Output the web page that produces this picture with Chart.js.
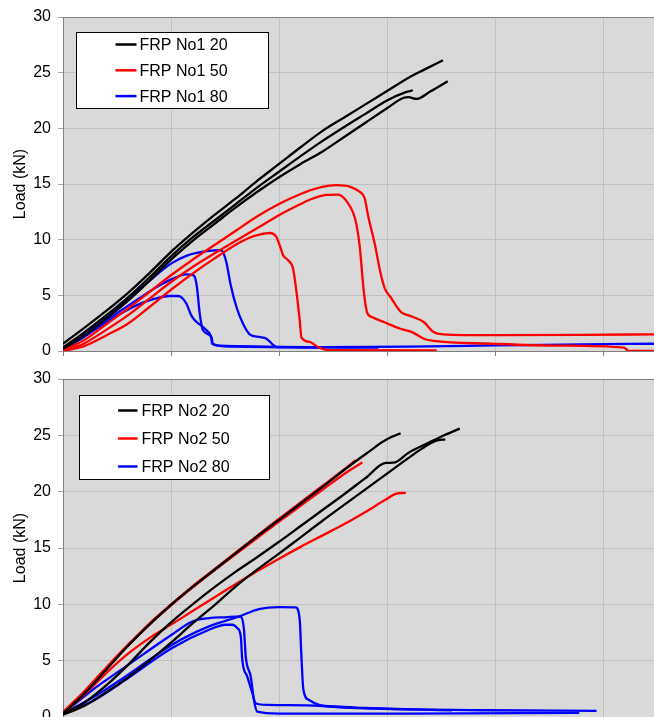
<!DOCTYPE html>
<html>
<head>
<meta charset="utf-8">
<script src="https://cdn.jsdelivr.net/npm/chart.js@4.4.1/dist/chart.umd.min.js"></script>
<style>
  html, body { margin: 0; padding: 0; background: #ffffff; overflow: hidden; }
  #page { position: relative; width: 654px; height: 717px; overflow: hidden; }
  #top { position: absolute; left: 0; top: 0; }
  #bottom { position: absolute; left: 0; top: 360px; }
</style>
</head>
<body>
<div id="page">
  <canvas id="top" width="654" height="372"></canvas>
  <canvas id="bottom" width="654" height="378"></canvas>
</div>
<script>
// Load vs. displacement, three specimens for each FRP bond length

const yTicks = [0, 5, 10, 15, 20, 25, 30];
const xGrid = [0, 5, 10, 15, 20, 25];
const xMax = 27.36;
const yTitle = 'Load (kN)';

const no1Labels = ['FRP No1 20', 'FRP No1 50', 'FRP No1 80'];
const no2Labels = ['FRP No2 20', 'FRP No2 50', 'FRP No2 80'];
const seriesColors = ['#000000', '#ff0000', '#0000ff'];

// ---- FRP No1 ----
const no1_20_a = [[0,0.65],[1,2.1],[2,3.6],[3,5.2],[4,7.0],[5,8.9],[6,10.6],[7,12.2],[8,13.7],[9,15.3],[10,16.8],[11,18.3],[12,19.75],[13,20.95],[14,22.15],[15,23.35],[16,24.55],[16.7,25.25],[17.59,26.12]];
const no1_20_b = [[0,0.3],[1,1.7],[2,3.2],[3,4.8],[4,6.6],[5,8.5],[6,10.2],[7,11.7],[8,13.2],[9,14.7],[10,16.1],[11,17.5],[12,18.85],[13,20.1],[14,21.3],[15,22.5],[15.9,23.27],[16.2,23.42]];
const no1_20_c = [[0,0.2],[1,1.4],[2,2.9],[3,4.5],[4,6.3],[5,8.2],[6,9.9],[7,11.4],[8,12.9],[9,14.3],[10,15.6],[11,16.8],[12,17.9],[13,19.2],[14,20.5],[15,21.8],[15.77,22.75],[16.0,22.8],[16.36,22.64],[17.0,23.3],[17.81,24.23]];

const no1_50_a = [[0,0.1],[1,1.0],[2,2.4],[3,3.8],[4,5.3],[5,6.8],[6,8.2],[7,9.5],[8,10.8],[9,12.1],[10,13.2],[11,14.1],[11.73,14.6],[12.66,14.89],[13.3,14.75],[13.74,14.29],[13.97,13.7],[14.12,12.2],[14.43,9.65],[14.7,7.0],[14.9,5.6],[15.16,4.85],[15.65,3.5],[16.0,3.2],[16.7,2.6],[17.16,1.7],[17.6,1.5],[20,1.42],[24,1.45],[27.36,1.5]];
const no1_50_b = [[0,0],[1,0.7],[2,1.9],[3,3.2],[4,4.7],[5,6.2],[6,7.55],[7,8.75],[8,9.9],[9,11.05],[10,12.2],[11,13.2],[11.5,13.65],[12.19,14.02],[12.73,14.05],[13.15,13.39],[13.54,11.74],[13.74,9.34],[13.92,5.45],[14.07,3.5],[14.3,3.05],[14.85,2.6],[15.62,2.0],[16.16,1.7],[16.7,1.1],[17.16,0.9],[19.8,0.66],[22.87,0.48],[25.96,0.3],[26.19,0.02],[27.36,0.02]];
const no1_50_c = [[0,0],[1,0.45],[2,1.4],[3,2.45],[4,3.95],[5,5.5],[6,6.95],[7,8.3],[8,9.55],[8.6,10.15],[9.1,10.45],[9.57,10.6],[9.88,10.24],[10.06,9.34],[10.19,8.6],[10.42,8.15],[10.65,7.4],[10.8,5.45],[10.96,2.76],[11.04,1.2],[11.42,0.81],[11.8,0.36],[12.3,0.08],[17.3,0.05]];

const no1_80_a = [[0,0.2],[1,1.5],[2,3.0],[3,4.65],[4,6.3],[5,7.85],[5.71,8.55],[6.42,8.9],[7.0,9.03],[7.33,9.05],[7.56,8.0],[7.75,6.05],[8.03,3.95],[8.33,2.46],[8.64,1.5],[9.1,1.26],[9.42,1.11],[9.7,0.6],[9.88,0.36],[12,0.35],[16,0.4],[20,0.5],[24,0.6],[27.36,0.65]];
const no1_80_b = [[0,0.1],[1,1.35],[2,2.75],[3,4.05],[3.7,4.95],[4.48,5.9],[5.09,6.5],[5.7,6.88],[6.0,6.82],[6.1,6.65],[6.2,5.75],[6.33,3.36],[6.48,1.86],[6.87,1.26],[6.94,0.66],[7.5,0.45],[10,0.35],[14.6,0.3]];
const no1_80_c = [[0,0.1],[1,1.3],[2,2.6],[2.7,3.4],[3.4,4.1],[4.17,4.65],[4.94,4.94],[5.32,4.94],[5.5,4.8],[5.71,4.26],[5.94,3.2],[6.1,2.76],[6.64,1.86],[6.87,1.11],[6.9,0.66],[7.3,0.45],[12.0,0.3]];

// ---- FRP No2 ----
const no2_20_a = [[0,0.3],[1,2.1],[2,4.2],[3,6.3],[4,8.2],[5,9.95],[6,11.55],[7,13.05],[8,14.55],[9,16.05],[10,17.5],[11,18.95],[12,20.4],[13,21.9],[13.55,22.7],[14.2,23.6],[14.78,24.4],[15.2,24.85],[15.63,25.18]];
const no2_20_b = [[0,0.3],[1,1.3],[2,2.8],[3,4.6],[4,6.6],[5,8.4],[6,10.0],[7,11.5],[8,12.9],[9,14.2],[10,15.55],[11,16.95],[12,18.35],[13,19.75],[14,21.2],[14.94,22.55],[15.3,22.57],[16.0,23.46],[16.94,24.35],[17.7,25.05],[18.37,25.6]];
const no2_20_c = [[0,0.2],[1,1.0],[2,2.2],[3,3.5],[4,5.0],[5,6.6],[6,8.3],[7,9.9],[8,11.6],[9,13.1],[10,14.5],[11,15.95],[12,17.4],[13,18.8],[14,20.2],[15,21.6],[16,23.0],[16.6,23.8],[17.25,24.5],[17.7,24.65]];

const no2_50_a = [[0,0.45],[1,2.3],[2,4.4],[3,6.4],[4,8.3],[5,10.0],[6,11.6],[7,13.1],[8,14.6],[9,16.1],[10,17.6],[11,19.05],[12,20.5],[13,21.95],[13.55,22.8]];
const no2_50_b = [[0,0.4],[1,2.2],[2,4.3],[3,6.3],[4,8.2],[5,9.9],[6,11.5],[7,13.0],[8,14.45],[9,15.9],[10,17.35],[11,18.75],[12,20.15],[13,21.55],[13.86,22.6]];
const no2_50_c = [[0,0.3],[1,2.0],[2,3.9],[3,5.6],[4,7.0],[5,8.2],[6,9.4],[7,10.6],[8,11.8],[9,12.95],[10,14.05],[11,15.1],[12,16.1],[13,17.1],[14,18.2],[14.94,19.3],[15.4,19.8],[15.87,19.9]];

const no2_80_a = [[0,0.3],[1.36,1.7],[2.9,3.6],[5.03,6.4],[6.76,8.04],[8.15,8.92],[9.07,9.58],[10.0,9.76],[10.77,9.73],[10.96,8.63],[11.03,5.67],[11.13,2.4],[11.39,1.51],[11.85,1.07],[12.5,0.9],[14.5,0.74],[19.7,0.6],[24.7,0.55]];
const no2_80_b = [[0,0.3],[1.36,2.4],[2.9,4.47],[5.03,7.3],[5.99,8.48],[6.76,8.78],[7.5,8.85],[8.23,8.92],[8.38,7.74],[8.46,5.36],[8.69,3.59],[8.84,1.51],[8.99,0.47],[10,0.3],[16,0.3],[23.9,0.36]];
const no2_80_c = [[0,0.3],[1.36,1.4],[2.9,3.3],[5.03,6.1],[6.76,7.74],[7.53,8.19],[7.84,8.19],[8.07,7.89],[8.23,7.15],[8.3,5.07],[8.53,3.59],[8.77,2.1],[8.92,1.22],[9.5,1.07],[11.85,1.0],[14,0.8],[18,0.6]];

const FONT = "'Liberation Sans', Arial, Helvetica, sans-serif";
const PLOT_BG = '#d9d9d9';
const GRID = '#c0c0c0';
const FRAME = '#7f7f7f';

function makeDatasets(labels, groups) {
  const sets = [];
  groups.forEach((curves, g) => {
    curves.forEach(curve => {
      sets.push({
        label: labels[g],
        data: curve.map(p => ({ x: p[0], y: p[1] })),
        borderColor: seriesColors[g],
        backgroundColor: seriesColors[g],
        borderWidth: 2.3,
        pointRadius: 0,
        pointHoverRadius: 0,
        fill: false,
        cubicInterpolationMode: 'monotone'
      });
    });
  });
  return sets;
}

// plot background, top frame line and the boxed legend
const panelPlugin = {
  id: 'panel',
  beforeDraw(chart, args, opts) {
    const { ctx, chartArea: a } = chart;
    ctx.save();
    ctx.fillStyle = opts.background;
    ctx.fillRect(a.left, a.top, a.right - a.left, a.bottom - a.top);
    ctx.restore();
  },
  afterDraw(chart, args, opts) {
    const { ctx, chartArea: a } = chart;
    ctx.save();
    ctx.strokeStyle = opts.frame;
    ctx.lineWidth = 1;
    ctx.beginPath();
    ctx.moveTo(a.left, a.top + 0.5);
    ctx.lineTo(a.right, a.top + 0.5);
    ctx.stroke();

    const L = opts.legend;
    const bx = Math.round(a.left + L.dx) + 0.5;
    const by = Math.round(a.top + L.dy) + 0.5;
    ctx.fillStyle = '#ffffff';
    ctx.fillRect(bx, by, L.w, L.h);
    ctx.strokeStyle = '#000000';
    ctx.lineWidth = 1;
    ctx.strokeRect(bx, by, L.w, L.h);

    const seen = [];
    chart.data.datasets.forEach(ds => {
      if (!seen.some(s => s.label === ds.label)) seen.push(ds);
    });
    ctx.font = '16px ' + FONT;
    ctx.textBaseline = 'middle';
    ctx.textAlign = 'left';
    seen.forEach((ds, i) => {
      const yy = by + L.row0 + i * L.rowGap;
      ctx.strokeStyle = ds.borderColor;
      ctx.lineWidth = 2.5;
      ctx.beginPath();
      ctx.moveTo(bx + L.s0, yy);
      ctx.lineTo(bx + L.s1, yy);
      ctx.stroke();
      ctx.fillStyle = '#000000';
      ctx.fillText(ds.label, bx + L.tx, yy + 1);
    });
    ctx.restore();
  }
};

function makeOptions(padTop, xAxisHeight, legend) {
  return {
    responsive: false,
    animation: false,
    devicePixelRatio: 1,
    layout: { padding: { top: padTop, left: 0, right: 0, bottom: 0 } },
    plugins: {
      legend: { display: false },
      tooltip: { enabled: false },
      panel: { background: PLOT_BG, frame: FRAME, legend: legend }
    },
    scales: {
      x: {
        type: 'linear',
        min: 0,
        max: xMax,
        afterBuildTicks: s => { s.ticks = xGrid.map(v => ({ value: v })); },
        afterFit: s => { s.height = xAxisHeight; },
        ticks: { display: false },
        grid: { color: GRID, tickColor: FRAME, tickLength: 5, lineWidth: 1 },
        border: { color: FRAME, width: 1 }
      },
      y: {
        type: 'linear',
        min: 0,
        max: 30,
        afterBuildTicks: s => { s.ticks = yTicks.map(v => ({ value: v })); },
        afterFit: s => { s.width = 63; },
        ticks: { font: { family: FONT, size: 16 }, color: '#000000', padding: 7 },
        grid: { color: GRID, tickColor: '#a6a6a6', tickLength: 5, lineWidth: 1 },
        border: { color: FRAME, width: 1 },
        title: {
          display: true,
          text: yTitle,
          font: { family: FONT, size: 16 },
          color: '#000000',
          padding: { top: 11, bottom: 0 }
        }
      }
    }
  };
}

new Chart(document.getElementById('top'), {
  type: 'line',
  data: {
    datasets: makeDatasets(no1Labels, [
      [no1_20_a, no1_20_b, no1_20_c],
      [no1_50_a, no1_50_b, no1_50_c],
      [no1_80_a, no1_80_b, no1_80_c]
    ])
  },
  options: makeOptions(17, 21, { dx: 13, dy: 15, w: 192, h: 76, row0: 12, rowGap: 25.8, s0: 39, s1: 60, tx: 63 }),
  plugins: [panelPlugin]
});

new Chart(document.getElementById('bottom'), {
  type: 'line',
  data: {
    datasets: makeDatasets(no2Labels, [
      [no2_20_a, no2_20_b, no2_20_c],
      [no2_50_a, no2_50_b, no2_50_c],
      [no2_80_a, no2_80_b, no2_80_c]
    ])
  },
  options: makeOptions(19, 21, { dx: 15.7, dy: 16.3, w: 190, h: 84, row0: 15, rowGap: 28, s0: 38.6, s1: 58, tx: 62 }),
  plugins: [panelPlugin]
});
</script>
</body>
</html>
